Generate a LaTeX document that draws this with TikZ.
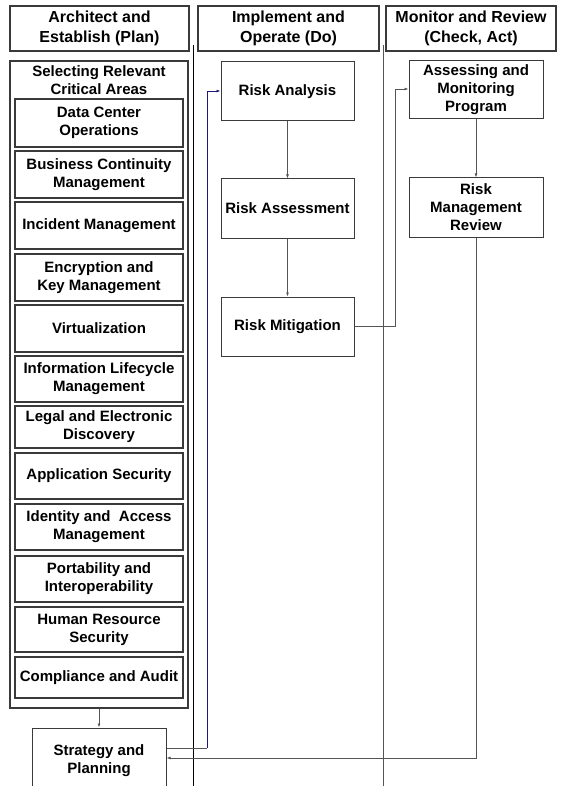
\documentclass[tikz,border=0pt]{standalone}
\usepackage{fontspec}
\setmainfont{Liberation Sans}
\usetikzlibrary{arrows.meta}
\definecolor{boxline}{HTML}{3A3A3A}
\definecolor{arrline}{HTML}{555555}
\definecolor{navyline}{HTML}{1C1C78}
\tikzset{
  hdr/.style={draw=boxline, line width=1.1pt, minimum width=#1, minimum height=45pt, inner sep=0pt, align=center, font=\bfseries\fontsize{16}{19.5}\selectfont},
  area/.style={draw=boxline, line width=1.1pt, minimum width=168pt, inner sep=0pt, align=center, font=\bfseries\fontsize{15}{18}\selectfont},
  proc/.style={draw=boxline, line width=1pt, minimum width=133pt, minimum height=59pt, inner sep=0pt, align=center, font=\bfseries\fontsize{15}{18}\selectfont},
  conn/.style={draw=arrline, line width=0.9pt, -{Latex[length=4pt,width=3pt]}},
  bconn/.style={draw=navyline, line width=0.9pt, -{Latex[length=4pt,width=3pt]}},
  sep/.style={line width=1pt}
}
\begin{document}
\begin{tikzpicture}[x=1pt,y=-1pt]
\useasboundingbox (0,0) rectangle (561,786);
\clip (0,0) rectangle (561,786);
% headers
\node[hdr=179pt] (h1) at (99.5,28.5) {Architect and\\Establish (Plan)};
\node[hdr=181pt] (h2) at (288.5,28.5) {Implement and\\Operate (Do)};
\node[hdr=170pt] (h3) at (471,28.5) {Monitor and Review\\(Check, Act)};
% separators
\coordinate (s1t) at (193,45); \coordinate (s1b) at (193,790);
\coordinate (s2t) at (383,45); \coordinate (s2b) at (383,790);
\draw[sep, black] (s1t) -- (s1b);
\draw[sep, arrline] (s2t) -- (s2b);
% outer container
\node[draw=boxline, line width=1.1pt, minimum width=178pt, minimum height=647pt, inner sep=0pt] (outer) at (99,384.5) {};
\node[font=\bfseries\fontsize{15}{18}\selectfont, align=center] (sel) at (99,80.5) {Selecting Relevant\\Critical Areas};
% area boxes
\node[area, minimum height=48pt] (a1) at (99,123) {Data Center\\Operations};
\node[area, minimum height=47pt] (a2) at (99,174.5) {Business Continuity\\Management};
\node[area, minimum height=47pt] (a3) at (99,225.5) {Incident Management};
\node[area, minimum height=47pt] (a4) at (99,277.5) {Encryption and\\Key Management};
\node[area, minimum height=47pt] (a5) at (99,328.5) {Virtualization};
\node[area, minimum height=46pt] (a6) at (99,379) {Information Lifecycle\\Management};
\node[area, minimum height=42pt] (a7) at (99,427) {Legal and Electronic\\Discovery};
\node[area, minimum height=46pt] (a8) at (99,476) {Application Security};
\node[area, minimum height=46pt] (a9) at (99,527) {Identity and\ \ Access\\Management};
\node[area, minimum height=46pt] (a10) at (99,579) {Portability and\\Interoperability};
\node[area, minimum height=45pt] (a11) at (99,629.5) {Human Resource\\Security};
\node[area, minimum height=41pt] (a12) at (99,677.5) {Compliance and Audit};
% process boxes
\node[proc] (ra) at (287.5,91.5) {Risk Analysis};
\node[proc] (ras) at (287.5,208.5) {Risk Assessment};
\node[proc] (rm) at (287.5,326.5) {Risk Mitigation};
\node[proc, minimum width=134pt, minimum height=58pt] (amp) at (476,90) {Assessing and\\Monitoring\\Program};
\node[proc, minimum width=134pt, minimum height=59pt] (rmr) at (476,207.5) {Risk\\Management\\Review};
\node[draw=boxline, line width=1pt, minimum width=134pt, minimum height=66pt, inner sep=0pt, align=center, font=\bfseries\fontsize{15}{18}\selectfont] (sp) at (99,761) {\raisebox{5pt}{\begin{tabular}{@{}c@{}}Strategy and\\Planning\end{tabular}}};
% connectors
\draw[conn] (ra.south) -- (ras.north);
\draw[conn] (ras.south) -- (rm.north);
\draw[conn] (amp.south) -- (rmr.north);
\draw[conn] (outer.south) -- (outer.south |- sp.north);
\draw[conn] (rm.east) -- (395,326.5) |- ([yshift=1pt]amp.west);
\draw[conn] (rmr.south) |- ([yshift=3pt]sp.east);
\coordinate (bturn) at (207,748);
\draw[draw=arrline, line width=0.9pt] ([yshift=13pt]sp.east) -- (bturn);
\draw[bconn] (bturn) -- (207,91) -- ([yshift=0.5pt]ra.west);
\end{tikzpicture}
\end{document}
